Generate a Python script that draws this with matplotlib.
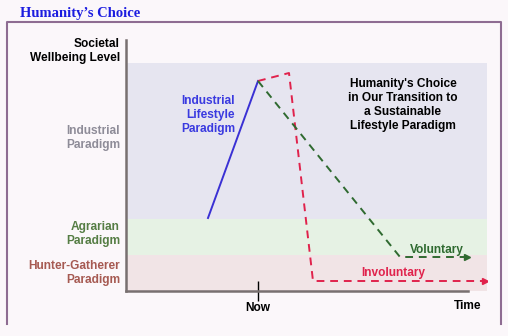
import matplotlib
matplotlib.use("Agg")
import matplotlib.pyplot as plt
from matplotlib.lines import Line2D

# data (x = time offset, y = wellbeing level)
band_names = ["Hunter-Gatherer\nParadigm", "Agrarian\nParadigm", "Industrial\nParadigm"]
band_edges = [0, 36, 72, 228]
band_colors = ["#f1e4e6", "#e6f2e4", "#e6e5f0"]
band_label_colors = ["#a65a52", "#557d44", "#8e8c98"]

industrial_x = [82, 132]
industrial_y = [73, 210]
involuntary_x = [132, 163, 187, 359]
involuntary_y = [210, 218, 10, 10]
voluntary_x = [132, 274, 341]
voluntary_y = [210, 34, 34]

now_x = 132
x_max, y_max = 361, 251

plt.rcParams['font.family'] = ['Liberation Sans', 'DejaVu Sans']
fs = 8.6

fig = plt.figure(figsize=(5.08, 3.36), dpi=100)
fig.patch.set_facecolor("#fbf7fa")
W, H = 508, 336

ax = fig.add_axes([126 / W, 45 / H, 361 / W, 251 / H])
ax.set_xlim(0, x_max)
ax.set_ylim(0, y_max)
ax.patch.set_alpha(0)

for i in range(len(band_names)):
    ax.axhspan(band_edges[i], band_edges[i + 1], color=band_colors[i], lw=0, zorder=0)

for s in ["top", "right"]:
    ax.spines[s].set_visible(False)
ax.spines["left"].set_color("#787070")
ax.spines["left"].set_linewidth(1.8)
ax.spines["bottom"].set_color("#787070")
ax.spines["bottom"].set_linewidth(1.8)
ax.spines["bottom"].set_bounds(0, 342)

ax.set_yticks([])
ax.set_xticks([now_x])
ax.set_xticklabels(["Now"], fontsize=fs, fontweight="bold")
ax.tick_params(axis="x", direction="inout", length=14, width=1, color="black", pad=1)
ax.text(342, -9, "Time", ha="center", va="top", fontsize=fs, fontweight="bold")

ax.plot(industrial_x, industrial_y, color="#3a30d4", lw=1.4, zorder=3)
ax.plot(involuntary_x, involuntary_y, color="#e0224c", lw=1.4, ls=(0, (4, 3)), zorder=3)
ax.plot(voluntary_x, voluntary_y, color="#2f6a30", lw=1.4, ls=(0, (4, 3)), zorder=3)
ax.plot(involuntary_x[-1:], involuntary_y[-1:], marker=">", ms=4, color="#e0224c", zorder=3)
ax.plot(voluntary_x[-1:], voluntary_y[-1:], marker=">", ms=4, color="#2f6a30", zorder=3)

ax.text(311, 41, "Voluntary", color="#2f6a30", fontsize=fs, fontweight="bold", ha="center", va="center")
ax.text(267, 18, "Involuntary", color="#e0224c", fontsize=fs, fontweight="bold", ha="center", va="center")
ax.text(109, 176, "Industrial\nLifestyle\nParadigm", color="#3a3ae0", fontsize=fs,
        fontweight="bold", ha="right", va="center", linespacing=1.2)
ax.text(277, 186, "Humanity's Choice\nin Our Transition to\na Sustainable\nLifestyle Paradigm",
        color="black", fontsize=fs, fontweight="bold", ha="center", va="center", linespacing=1.2)

# left-hand labels
ax.text(-6, y_max + 2, "Societal\nWellbeing Level", ha="right", va="top", fontsize=fs,
        fontweight="bold", linespacing=1.2)
ax.text(-6, 153, band_names[2], ha="right", va="center", fontsize=fs, fontweight="bold",
        color=band_label_colors[2], linespacing=1.2)
ax.text(-6, 57, band_names[1], ha="right", va="center", fontsize=fs, fontweight="bold",
        color=band_label_colors[1], linespacing=1.2)
ax.text(-6, 18, band_names[0], ha="right", va="center", fontsize=fs, fontweight="bold",
        color=band_label_colors[0], linespacing=1.2)

# outer frame (top, left, right)
frame_c = "#8e6c92"
fig.add_artist(Line2D([7 / W, 7 / W, 501 / W, 501 / W],
                      [1 - 324 / H, 1 - 22 / H, 1 - 22 / H, 1 - 324 / H],
                      color=frame_c, lw=1.5, transform=fig.transFigure))
fig.text(20 / W, 1 - 13 / H, "Humanity’s Choice", family=["Liberation Serif", "DejaVu Serif"],
         fontweight="bold", fontsize=10.5, color="#1c1ce0", va="center", ha="left")

fig.savefig("out.png", dpi=100, facecolor=fig.get_facecolor())
